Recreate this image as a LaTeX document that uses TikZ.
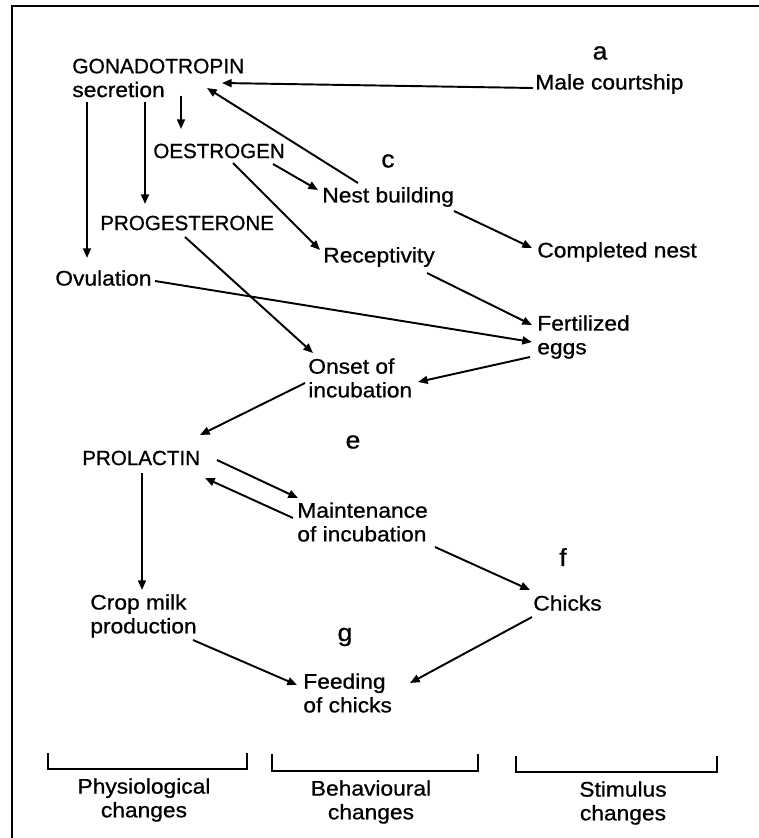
\documentclass[tikz,border=0pt]{standalone}
\usepackage{fontspec}
\setmainfont{Liberation Sans}[FakeStretch=1.08, RawFeature={embolden=0.8}]
\newfontfamily\capsfont{Liberation Sans}[RawFeature={embolden=0.8}]
\usetikzlibrary{arrows.meta,calc}

\begin{document}
\begin{tikzpicture}
  [x=0.02cm, y=-0.02cm,
   every node/.style={inner sep=0pt, anchor=west, align=left,
     font=\fontsize{12}{13.5}\selectfont},
   hormone/.style={font=\capsfont\fontsize{11.7}{13.5}\selectfont},
   stage/.style={anchor=center, font=\fontsize{14}{14}\selectfont},
   foot/.style={anchor=center, align=center},
   arr/.style={-{Triangle[length=5.5pt,width=4.5pt]}, line width=1.1pt},
   bracket/.style={line width=1pt}]
  \useasboundingbox (0,0) rectangle (759,838);
  \draw[line width=1.2pt] (759,6) -- (12,6) -- (12,838);

  \node (gon) at (72,78) {{\capsfont\fontsize{11.9}{13.5}\selectfont GONADOTROPIN}\\secretion};
  \node (male) at (535,84) {Male courtship};
  \node[hormone] (oes) at (153,151) {OESTROGEN};
  \node (nest) at (322,197) {Nest building};
  \node[hormone] (prog) at (100,223) {PROGESTERONE};
  \node (rec) at (323,257) {Receptivity};
  \node (comp) at (537,252) {Completed nest};
  \node (ovu) at (55,278) {Ovulation};
  \node (fert) at (537,337) {Fertilized\\eggs};
  \node (onset) at (308,378) {Onset of\\incubation};
  \node[hormone] (prol) at (82,458) {PROLACTIN};
  \node (maint) at (297,522) {Maintenance\\of incubation};
  \node (chicks) at (533,603) {Chicks};
  \node (crop) at (90,616) {Crop milk\\production};
  \node (feed) at (303,693) {Feeding\\of chicks};

  \node[stage] (sa) at (600,53) {a};
  \node[stage] (sc) at (388,161) {c};
  \node[stage] (se) at (353,442) {e};
  \node[stage] (sf) at (563,557) {f};
  \node[stage] (sg) at (345,637) {g};

  \draw[arr] ($(male.west)+(-2,4)$) -- ($(gon.west)+(150,5)$);
  \draw[arr] ($(nest.west)+(36,-14)$) -- ($(gon.west)+(135,10)$);
  \draw[arr] ($(gon.west)+(109,18)$) -- ($(oes.west)+(28,-22)$);
  \draw[arr] ($(gon.west)+(73,24)$) -- ($(prog.west)+(45,-19)$);
  \draw[arr] ($(gon.west)+(15,24)$) -- ($(ovu.west)+(32,-20)$);
  \draw[arr] ($(oes.west)+(120,13)$) -- ($(nest.west)+(-4,-7)$);
  \draw[arr] ($(oes.west)+(80,12)$) -- ($(rec.west)+(-3,-7)$);
  \draw[arr] ($(nest.west)+(132,14)$) -- ($(comp.west)+(-5,-4)$);
  \draw[arr] ($(rec.west)+(104,16)$) -- ($(fert.west)+(-5,-12)$);
  \draw[arr] ($(ovu.west)+(100,3)$) -- ($(fert.west)+(-5,5)$);
  \draw[arr] ($(prog.west)+(85,14)$) -- ($(onset.west)+(5,-25)$);
  \draw[arr] ($(fert.west)+(-7,20)$) -- ($(onset.west)+(110,4)$);
  \draw[arr] ($(onset.west)+(-3,5)$) -- ($(prol.west)+(118,-23)$);
  \draw[arr] ($(prol.west)+(135,2)$) -- ($(maint.west)+(1,-24)$);
  \draw[arr] ($(maint.west)+(-4,-4)$) -- ($(prol.west)+(123,20)$);
  \draw[arr] ($(maint.west)+(138,25)$) -- ($(chicks.west)+(-3,-13)$);
  \draw[arr] ($(prol.west)+(60,15)$) -- ($(crop.west)+(52,-26)$);
  \draw[arr] ($(crop.west)+(103,24)$) -- ($(feed.west)+(-6,-8)$);
  \draw[arr] ($(chicks.west)+(-1,14)$) -- ($(feed.west)+(107,-10)$);

  \draw[bracket] (48,753) -- (48,769) -- (247,769) -- (247,753);
  \draw[bracket] (272,754) -- (272,771) -- (478,771) -- (478,754);
  \draw[bracket] (516,756) -- (516,772) -- (717,772) -- (717,756);
  \node[foot] (phys) at (144,800) {Physiological\\changes};
  \node[foot] (behav) at (371,802) {Behavioural\\changes};
  \node[foot] (stim) at (623,803) {Stimulus\\changes};
\end{tikzpicture}
\end{document}
